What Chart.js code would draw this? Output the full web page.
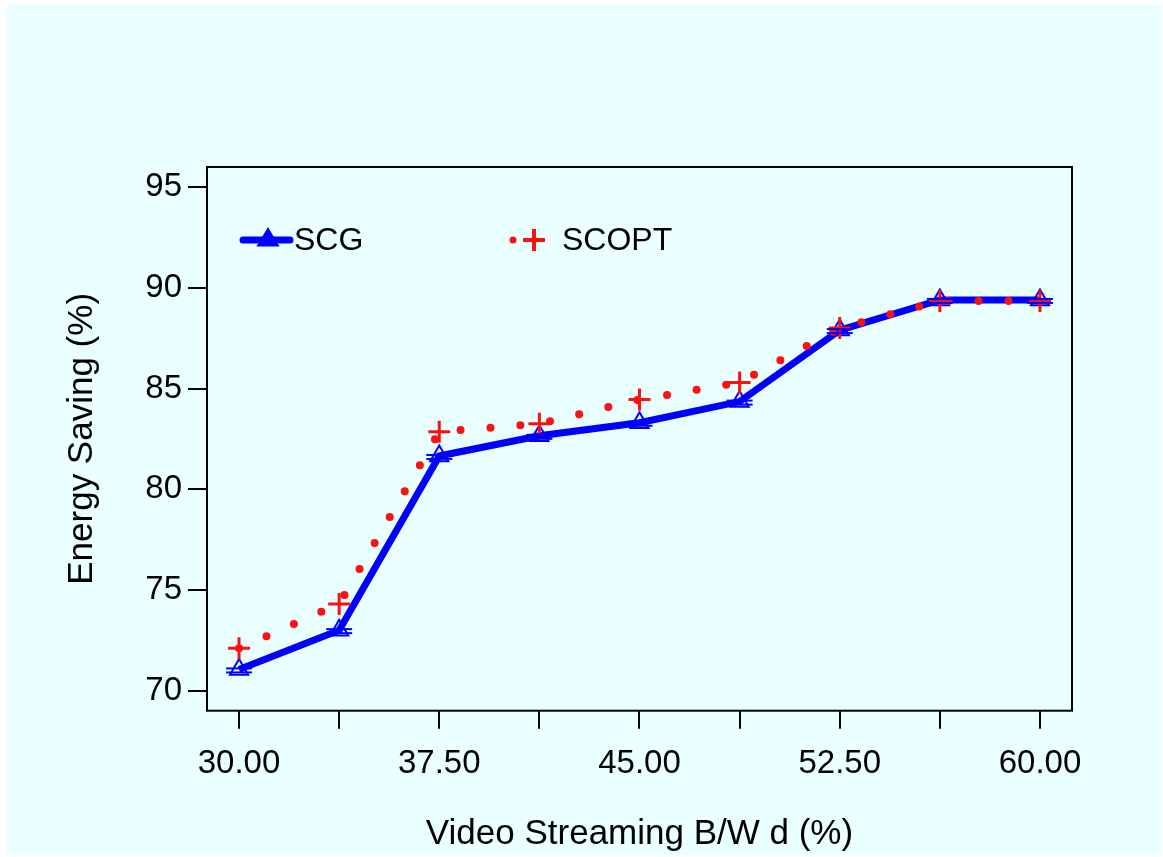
<!DOCTYPE html>
<html>
<head>
<meta charset="utf-8">
<script src="https://cdn.jsdelivr.net/npm/chart.js@4/dist/chart.umd.min.js"></script>
<style>
  html, body { margin: 0; padding: 0; background: #ffffff; }
  #wrap { position: absolute; left: 7px; top: 4px; width: 1155px; height: 851px; background: #eaffff; }
</style>
</head>
<body>
<div id="wrap"><canvas id="energyChart" width="1155" height="851"></canvas></div>
<script>
// bandwidth share d (%) and energy saving (%) for both schemes
const bandwidth = [30, 33.75, 37.5, 41.25, 45, 48.75, 52.5, 56.25, 60];
const scgSaving = [71.05, 73.0, 81.65, 82.65, 83.3, 84.35, 87.9, 89.4, 89.4];
const scoptSaving = [72.1, 74.3, 82.85, 83.25, 84.45, 85.3, 88.0, 89.35, 89.35];
const yTicks = [70, 75, 80, 85, 90, 95];

const FONT = "'Liberation Sans', Arial, Helvetica, sans-serif";
const BLUE = "#0000ff";
const RED = "#ff1010";

const toPoints = ys => bandwidth.map((x, i) => ({ x: x, y: ys[i] }));

// plot frame around the chart area
const framePlugin = {
    id: "frame",
    afterDraw(chart) {
        const { ctx, chartArea: a } = chart;
        ctx.save();
        ctx.strokeStyle = "#000";
        ctx.lineWidth = 2;
        ctx.strokeRect(a.left, a.top, a.right - a.left, a.bottom - a.top);
        ctx.restore();
    }
};

// the small double bars under each SCG triangle
const barsPlugin = {
    id: "scgBars",
    afterDatasetsDraw(chart) {
        const meta = chart.getDatasetMeta(1);
        const ctx = chart.ctx;
        ctx.save();
        ctx.strokeStyle = BLUE;
        ctx.lineWidth = 2;
        meta.data.forEach(p => {
            [-1, 3].forEach(dy => {
                ctx.beginPath();
                ctx.moveTo(p.x - 13, p.y + dy);
                ctx.lineTo(p.x + 13, p.y + dy);
                ctx.stroke();
            });
        });
        ctx.restore();
    }
};

// legend inside the plot, top left
const legendPlugin = {
    id: "insideLegend",
    afterDraw(chart) {
        const ctx = chart.ctx;
        const a = chart.chartArea;
        const y = a.top + 73;
        ctx.save();
        // SCG
        let x0 = a.left + 36;
        ctx.strokeStyle = BLUE;
        ctx.lineWidth = 7;
        ctx.lineCap = "round";
        ctx.beginPath();
        ctx.moveTo(x0, y);
        ctx.lineTo(x0 + 47, y);
        ctx.stroke();
        ctx.fillStyle = BLUE;
        ctx.beginPath();
        ctx.moveTo(x0 + 25, y - 10);
        ctx.lineTo(x0 + 34, y + 5);
        ctx.lineTo(x0 + 16, y + 5);
        ctx.closePath();
        ctx.fill();
        ctx.lineWidth = 3;
        ctx.stroke();
        ctx.fillStyle = "#000";
        ctx.font = "32px " + FONT;
        ctx.textBaseline = "middle";
        ctx.fillText("SCG", x0 + 51, y + 1);
        // SCOPT
        let x1 = a.left + 306;
        ctx.fillStyle = RED;
        ctx.beginPath();
        ctx.arc(x1, y, 3.5, 0, Math.PI * 2);
        ctx.fill();
        ctx.strokeStyle = RED;
        ctx.lineWidth = 4;
        ctx.lineCap = "butt";
        ctx.beginPath();
        ctx.moveTo(x1 + 10, y);
        ctx.lineTo(x1 + 32, y);
        ctx.moveTo(x1 + 21, y - 11);
        ctx.lineTo(x1 + 21, y + 11);
        ctx.stroke();
        ctx.fillStyle = "#000";
        ctx.fillText("SCOPT", x1 + 49, y + 1);
        ctx.restore();
    }
};

new Chart(document.getElementById("energyChart"), {
    type: "line",
    data: {
        datasets: [{
            label: "SCOPT",
            data: toPoints(scoptSaving),
            borderColor: RED,
            borderWidth: 8,
            borderDash: [0, 30],
            borderCapStyle: "round",
            pointStyle: "cross",
            pointRadius: 11,
            pointBorderWidth: 3,
            pointBorderColor: RED,
            pointBackgroundColor: RED,
            tension: 0,
            order: 1
        }, {
            label: "SCG",
            data: toPoints(scgSaving),
            borderColor: BLUE,
            borderWidth: 7,
            pointStyle: "triangle",
            pointRadius: 10.5,
            pointBorderWidth: 2,
            pointBorderColor: BLUE,
            pointBackgroundColor: "rgba(0,0,0,0)",
            tension: 0,
            order: 2
        }]
    },
    options: {
        responsive: false,
        animation: false,
        events: [],
        layout: { padding: { left: 0, top: 163, right: 90, bottom: 0 } },
        plugins: {
            legend: { display: false },
            tooltip: { enabled: false }
        },
        scales: {
            x: {
                type: "linear",
                min: 28.8,
                max: 61.2,
                afterFit: s => { s.height = 144.3; },
                afterBuildTicks: s => { s.ticks = bandwidth.map(v => ({ value: v })); },
                border: { display: false },
                grid: { drawOnChartArea: false, drawTicks: true, tickLength: 18, color: "#000", lineWidth: 2 },
                ticks: {
                    color: "#000",
                    padding: 15,
                    maxRotation: 0,
                    autoSkip: false,
                    font: { family: FONT, size: 33 },
                    callback: (v, i) => (i % 2 === 0 ? Number(v).toFixed(2) : "")
                },
                title: {
                    display: true,
                    text: "Video Streaming B/W d (%)",
                    color: "#000",
                    padding: { top: 0, bottom: 0 },
                    font: { family: FONT, size: 35 }
                }
            },
            y: {
                min: 69,
                max: 96,
                afterFit: s => { s.width = 200; },
                afterBuildTicks: s => { s.ticks = yTicks.map(v => ({ value: v })); },
                border: { display: false },
                grid: { drawOnChartArea: false, drawTicks: true, tickLength: 19, color: "#000", lineWidth: 2 },
                ticks: {
                    color: "#000",
                    padding: 6,
                    font: { family: FONT, size: 33 }
                },
                title: {
                    display: true,
                    text: "Energy Saving (%)",
                    color: "#000",
                    padding: { top: 54, bottom: 0 },
                    font: { family: FONT, size: 35 }
                }
            }
        }
    },
    plugins: [framePlugin, barsPlugin, legendPlugin]
});
</script>
</body>
</html>
